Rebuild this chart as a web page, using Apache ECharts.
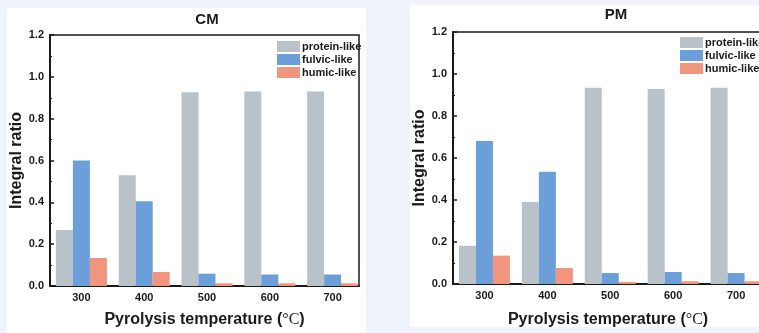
<!DOCTYPE html>
<html>
<head>
<meta charset="utf-8">
<script src="https://cdn.jsdelivr.net/npm/echarts@6/dist/echarts.min.js"></script>
<style>
  html, body { margin: 0; padding: 0; width: 759px; height: 333px; overflow: hidden; background: #EEF3FC; }
  .panel { position: absolute; background: #ffffff; }
  #chart { position: absolute; left: 0; top: 0; width: 800px; height: 333px; }
</style>
</head>
<body>
<div class="panel" style="left:7px; top:8px; width:359px; height:325px;"></div>
<div class="panel" style="left:410px; top:5px; width:349px; height:322px;"></div>
<div id="chart"></div>
<script>
// Pyrolysis temperatures (°C) and integral ratios of the three fluorescent components
const temperatures = [300, 400, 500, 600, 700];
const seriesNames = ['protein-like', 'fulvic-like', 'humic-like'];
const yTicks = [0, 0.2, 0.4, 0.6, 0.8, 1.0, 1.2];

const cmProtein = [0.268, 0.529, 0.926, 0.930, 0.930];
const cmFulvic  = [0.600, 0.405, 0.059, 0.055, 0.055];
const cmHumic   = [0.134, 0.067, 0.013, 0.013, 0.013];

const pmProtein = [0.182, 0.390, 0.934, 0.929, 0.935];
const pmFulvic  = [0.681, 0.535, 0.052, 0.057, 0.052];
const pmHumic   = [0.135, 0.076, 0.010, 0.013, 0.013];

const colors = ['#B9C1C9', '#6C9FDA', '#F1957F'];
const ink = '#1a1a1a';
const font = '"Liberation Sans", Arial, sans-serif';

const pairs = vals => vals.map((v, i) => [temperatures[i], v]);

function xAxisFor(gridIndex, max, nameGap, namePad) {
  return {
    type: 'value', gridIndex, min: 250, max,
    name: 'Pyrolysis temperature ({deg|°C})',
    nameLocation: 'middle', nameGap,
    nameTextStyle: {
      color: ink, fontFamily: font, fontWeight: 'bold', fontSize: 16, padding: namePad,
      rich: { deg: { fontFamily: '"Liberation Serif", "Times New Roman", serif', fontSize: 16, fontWeight: 'normal', color: ink } }
    },
    axisLine: { show: true, onZero: false, lineStyle: { color: ink, width: 2 } },
    axisTick: { show: false },
    splitLine: { show: false },
    axisLabel: {
      customValues: temperatures, margin: 6,
      color: ink, fontFamily: font, fontWeight: 'bold', fontSize: 11
    }
  };
}

function yAxisFor(gridIndex, nameGap) {
  return {
    type: 'value', gridIndex, min: 0, max: 1.2, interval: 0.2,
    name: 'Integral ratio', nameLocation: 'middle', nameGap,
    nameTextStyle: { color: ink, fontFamily: font, fontWeight: 'bold', fontSize: 16 },
    axisLine: { show: true, lineStyle: { color: ink, width: 2 } },
    axisTick: { show: true, inside: true, length: 4, lineStyle: { color: ink, width: 1.5 } },
    minorTick: { show: true, splitNumber: 2, length: 2, lineStyle: { color: ink, width: 1.2 } },
    splitLine: { show: false },
    axisLabel: {
      margin: 6, color: ink, fontFamily: font, fontWeight: 'bold', fontSize: 11,
      formatter: v => v.toFixed(1)
    }
  };
}

function barsFor(idx, values) {
  return values.map((vals, k) => ({
    name: seriesNames[k], type: 'bar',
    xAxisIndex: idx, yAxisIndex: idx,
    barWidth: 17, barGap: '0%',
    itemStyle: { color: colors[k] },
    data: pairs(vals)
  }));
}

function legendFor(left, top) {
  return {
    data: seriesNames, orient: 'vertical', left, top,
    padding: 0, itemWidth: 23, itemHeight: 11, itemGap: 2,
    icon: 'rect',
    textStyle: { color: ink, fontFamily: font, fontWeight: 'bold', fontSize: 11, padding: [0, 0, 0, -3] }
  };
}

const chart = echarts.init(document.getElementById('chart'), null, { renderer: 'canvas' });
chart.setOption({
  backgroundColor: 'transparent',
  animation: false,
  title: [
    { text: 'CM', left: 207, top: 12, textAlign: 'center', padding: 0,
      textStyle: { color: ink, fontFamily: font, fontWeight: 'bold', fontSize: 15 } },
    { text: 'PM', left: 616, top: 7, textAlign: 'center', padding: 0,
      textStyle: { color: ink, fontFamily: font, fontWeight: 'bold', fontSize: 15 } }
  ],
  legend: [legendFor(277, 41), legendFor(680, 37)],
  grid: [
    { left: 50, top: 35, width: 309, height: 254, show: true, borderColor: ink, borderWidth: 1.5, backgroundColor: 'transparent' },
    { left: 453, top: 32, width: 346, height: 252, show: true, borderColor: ink, borderWidth: 1.5, backgroundColor: 'transparent' }
  ],
  xAxis: [xAxisFor(0, 742, 26, 0), xAxisFor(1, 800, 28, [0, 36, 0, 0])],
  yAxis: [yAxisFor(0, 25), yAxisFor(1, 22)],
  series: [
    ...barsFor(0, [cmProtein, cmFulvic, cmHumic]),
    ...barsFor(1, [pmProtein, pmFulvic, pmHumic])
  ]
});
</script>
</body>
</html>
